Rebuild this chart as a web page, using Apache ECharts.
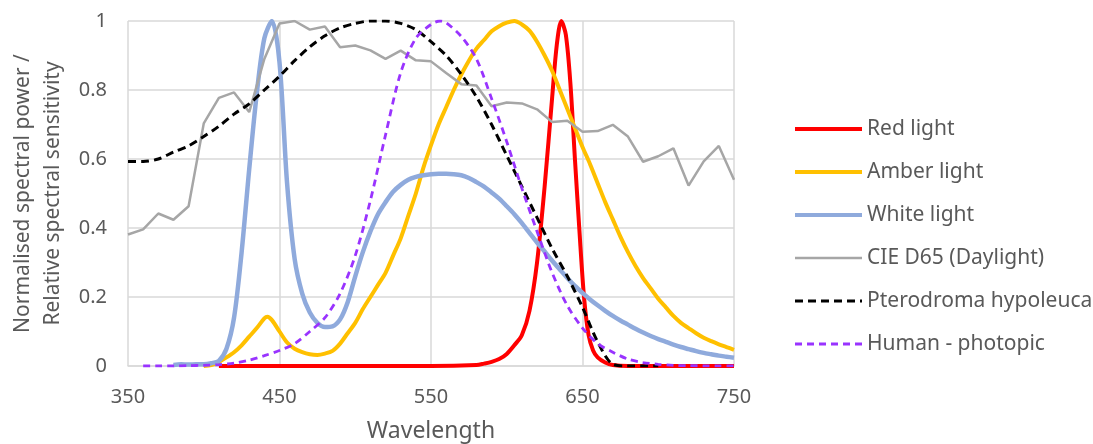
<!DOCTYPE html>
<html>
<head>
<meta charset="utf-8">
<script src="https://cdn.jsdelivr.net/npm/echarts@6/dist/echarts.min.js"></script>
<style>
html,body{margin:0;padding:0;background:#fff;}
#chart{width:1093px;height:444px;}
</style>
</head>
<body>
<div id="chart"></div>
<script>
// ---------- data ----------
const seriesNames = ['Red light','Amber light','White light','CIE D65 (Daylight)','Pterodroma hypoleuca','Human - photopic'];
const xTicks = [350,450,550,650,750];
const yTicks = [0,0.2,0.4,0.6,0.8,1];

const redWl  = [410,450,500,550,580,585,590,595,600,605,610,615,620,625,630,633,636,639,642,645,648,651,654,657,660,665,670,680,700,750];
const redVal = [0,0,0,0,0.003,0.007,0.012,0.02,0.035,0.06,0.09,0.16,0.30,0.52,0.78,0.93,1.0,0.96,0.82,0.60,0.39,0.20,0.09,0.045,0.025,0.01,0.003,0,0,0];

const amberWl  = [400,405,410,415,420,425,430,435,440,442,445,450,455,460,465,470,475,480,485,490,495,500,505,510,515,520,525,530,535,540,545,550,555,560,565,570,575,580,585,590,595,600,605,610,615,620,625,630,635,640,645,650,655,660,665,670,675,680,685,690,695,700,705,710,715,720,725,730,735,740,745,750];
const amberVal = [0,0.003,0.012,0.025,0.04,0.06,0.085,0.11,0.138,0.143,0.133,0.10,0.068,0.05,0.04,0.034,0.032,0.036,0.044,0.065,0.095,0.125,0.165,0.20,0.235,0.27,0.32,0.37,0.435,0.50,0.575,0.64,0.70,0.75,0.80,0.845,0.885,0.92,0.945,0.97,0.985,0.995,1.0,0.99,0.972,0.94,0.90,0.855,0.80,0.745,0.69,0.635,0.585,0.53,0.475,0.425,0.375,0.33,0.29,0.255,0.225,0.195,0.17,0.145,0.125,0.11,0.095,0.082,0.072,0.063,0.055,0.047];

const whiteWl  = [380,385,390,395,400,405,410,415,420,425,430,435,440,445,450,455,460,465,470,475,480,485,490,495,500,505,510,515,520,525,530,535,540,545,550,555,560,565,570,575,580,585,590,595,600,605,610,615,620,625,630,635,640,645,650,655,660,665,670,675,680,685,690,695,700,705,710,715,720,725,730,735,740,745,750];
const whiteVal = [0.003,0.005,0.004,0.005,0.005,0.008,0.015,0.05,0.14,0.33,0.57,0.79,0.95,1.0,0.88,0.53,0.31,0.21,0.155,0.125,0.113,0.115,0.135,0.185,0.26,0.33,0.39,0.44,0.475,0.505,0.525,0.54,0.548,0.553,0.556,0.557,0.557,0.556,0.553,0.545,0.533,0.52,0.503,0.485,0.463,0.44,0.414,0.386,0.358,0.332,0.305,0.28,0.255,0.232,0.212,0.193,0.176,0.16,0.145,0.132,0.12,0.108,0.097,0.087,0.078,0.07,0.062,0.055,0.049,0.043,0.038,0.034,0.03,0.027,0.024];

const cieWl  = [350,360,370,380,390,400,410,420,430,440,450,460,470,480,490,500,510,520,530,540,550,560,570,580,590,600,610,620,630,640,650,660,670,680,690,700,710,720,730,740,750];
const cieVal = [0.381,0.396,0.442,0.424,0.463,0.703,0.777,0.793,0.736,0.890,0.993,1.0,0.975,0.984,0.924,0.929,0.915,0.890,0.914,0.886,0.883,0.849,0.817,0.813,0.753,0.764,0.761,0.744,0.707,0.711,0.679,0.681,0.699,0.665,0.592,0.608,0.631,0.523,0.593,0.638,0.540];

const pteroWl  = [350,360,370,380,390,400,410,420,430,440,450,460,470,480,490,500,510,520,530,540,550,560,570,580,590,600,610,620,630,640,650,660,670,680,690,700];
const pteroVal = [0.593,0.593,0.60,0.62,0.638,0.665,0.695,0.73,0.76,0.80,0.84,0.885,0.925,0.957,0.98,0.993,1.0,1.0,0.993,0.975,0.94,0.90,0.845,0.78,0.70,0.61,0.52,0.43,0.34,0.26,0.17,0.07,0.005,0,0,0];

const humanWl  = [360,370,380,390,400,410,420,430,440,450,460,470,480,490,500,510,520,530,540,550,556,560,570,580,590,600,610,620,630,640,650,660,670,680,690,700,710,720,730,740,750];
const humanVal = [0,0,0,0.001,0.002,0.004,0.008,0.017,0.03,0.045,0.065,0.10,0.14,0.21,0.32,0.48,0.67,0.85,0.95,0.99,1.0,0.995,0.955,0.89,0.775,0.65,0.515,0.39,0.27,0.175,0.11,0.065,0.04,0.02,0.01,0.005,0.002,0.001,0.0005,0.0002,0.0001];

// ---------- chart ----------
const zip = (a, b) => a.map((x, i) => [x, b[i]]);
const textColor = '#595959';
const fontFam = '"Noto Sans", sans-serif';

const chart = echarts.init(document.getElementById('chart'), null, {renderer: 'canvas'});

const styles = [
  {color: '#FF0000', width: 4, dash: 'solid', smooth: 0.3},
  {color: '#FFC000', width: 4, dash: 'solid', smooth: 0.3},
  {color: '#8FAADC', width: 4.5, dash: 'solid', smooth: 0.3},
  {color: '#A6A6A6', width: 2.5, dash: 'solid', smooth: false},
  {color: '#000000', width: 3, dash: [8, 5], smooth: 0.3},
  {color: '#9933FF', width: 2.8, dash: [7, 5], smooth: 0.3}
];
const dataSets = [
  zip(redWl, redVal), zip(amberWl, amberVal), zip(whiteWl, whiteVal),
  zip(cieWl, cieVal), zip(pteroWl, pteroVal), zip(humanWl, humanVal)
];

chart.setOption({
  animation: false,
  backgroundColor: '#ffffff',
  grid: {left: 128, right: 359, top: 21, bottom: 78, containLabel: false, outerBoundsMode: 'none'},
  xAxis: {
    type: 'value', min: xTicks[0], max: xTicks[xTicks.length - 1], interval: 100,
    name: 'Wavelength', nameLocation: 'middle', nameGap: 54,
    nameTextStyle: {color: textColor, fontSize: 23, fontFamily: fontFam},
    axisLine: {show: true, lineStyle: {color: '#D9D9D9', width: 1.5}},
    axisTick: {show: false},
    axisLabel: {color: textColor, fontSize: 20, fontFamily: fontFam, margin: 21},
    splitLine: {show: true, lineStyle: {color: '#D9D9D9', width: 1.5}}
  },
  yAxis: {
    type: 'value', min: yTicks[0], max: yTicks[yTicks.length - 1], interval: 0.2,
    name: 'Normalised spectral power /\nRelative spectral sensitivity',
    nameLocation: 'middle', nameGap: 60, nameRotate: 90,
    nameTextStyle: {color: textColor, fontSize: 21, fontFamily: fontFam, lineHeight: 30},
    axisLine: {show: false},
    axisTick: {show: false},
    axisLabel: {color: textColor, fontSize: 20, fontFamily: fontFam, margin: 21,
      formatter: v => String(Math.round(v * 10) / 10)},
    splitLine: {show: true, lineStyle: {color: '#D9D9D9', width: 1.5}}
  },
  legend: {
    orient: 'vertical', left: 793, top: 118, padding: 0,
    itemWidth: 67, itemHeight: 14, itemGap: 21,
    data: seriesNames.map((n, i) => ({
      name: n,
      itemStyle: {opacity: 0},
      lineStyle: {color: styles[i].color, width: Math.min(styles[i].width, 4), type: styles[i].dash}
    })),
    textStyle: {color: textColor, fontSize: 21, fontFamily: fontFam, lineHeight: 22}
  },
  series: seriesNames.map((n, i) => ({
    name: n,
    type: 'line',
    data: dataSets[i],
    symbol: 'none',
    smooth: styles[i].smooth,
    animation: false,
    lineStyle: {color: styles[i].color, width: styles[i].width, type: styles[i].dash},
    itemStyle: {color: styles[i].color}
  }))
});
</script>
</body>
</html>
